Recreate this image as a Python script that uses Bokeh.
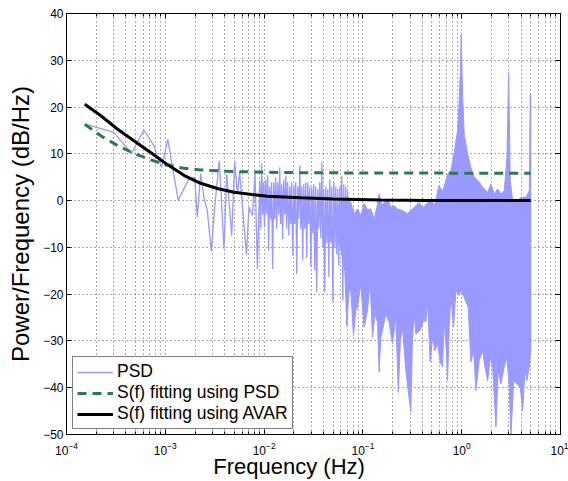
from bokeh.plotting import figure
from bokeh.embed import file_html
from bokeh.resources import INLINE
from bokeh.models import (Range1d, FixedTicker, Legend, LegendItem, LogAxis, LinearAxis,
                          CustomJSTickFormatter)

# ---------------- data ----------------
# PSD trace, low / mid frequency part (Hz, dB/Hz)
psd_freq = [1.53e-4, 3.01e-4, 4.56e-4, 6.07e-4, 7.66e-4, 9.17e-4, 1.06e-3, 1.35e-3,
            1.73e-3, 1.98e-3, 2.11e-3, 2.28e-3, 2.46e-3, 2.66e-3, 2.92e-3, 3.16e-3,
            3.52e-3, 3.93e-3, 4.18e-3, 4.41e-3, 4.70e-3, 5.04e-3, 5.36e-3, 5.66e-3,
            5.83e-3, 6.62e-3, 7.03e-3, 7.61e-3, 8.09e-3, 8.55e-3, 9.03e-3,
            9.24e-3, 9.46e-3, 9.68e-3, 9.91e-3, 1.01e-2, 1.04e-2, 1.06e-2, 1.09e-2,
            1.11e-2, 1.14e-2, 1.17e-2, 1.19e-2, 1.22e-2, 1.25e-2, 1.28e-2, 1.31e-2,
            1.34e-2, 1.37e-2, 1.41e-2, 1.44e-2, 1.47e-2, 1.51e-2, 1.54e-2, 1.58e-2,
            1.62e-2, 1.66e-2, 1.69e-2, 1.73e-2, 1.78e-2, 1.82e-2, 1.86e-2, 1.90e-2,
            1.95e-2, 2.00e-2, 2.04e-2, 2.09e-2, 2.14e-2, 2.19e-2, 2.24e-2, 2.30e-2,
            2.35e-2, 2.41e-2, 2.46e-2, 2.52e-2, 2.58e-2, 2.64e-2, 2.70e-2, 2.77e-2,
            2.83e-2, 2.90e-2, 2.97e-2, 3.04e-2, 3.11e-2, 3.18e-2, 3.26e-2, 3.33e-2,
            3.41e-2, 3.49e-2, 3.58e-2, 3.66e-2, 3.75e-2, 3.84e-2, 3.93e-2, 4.02e-2,
            4.11e-2, 4.21e-2, 4.31e-2, 4.41e-2, 4.52e-2, 4.62e-2, 4.73e-2, 4.84e-2,
            4.96e-2, 5.08e-2, 5.20e-2, 5.32e-2, 5.44e-2, 5.57e-2, 5.70e-2, 5.84e-2,
            5.98e-2, 6.12e-2, 6.26e-2, 6.41e-2, 6.56e-2, 6.72e-2, 6.87e-2, 7.04e-2]
psd_db = [16.4, 14.6, 10.1, 15.1, 11.75, 7.1, 13.1, 0.1,
          4.6, 5.0, -3.5, 5.8, 0.7, -2.1, -10.8, -1.4,
          8.5, -10.3, 5.7, 0.0, -7.5, 8.5, 1.4, 6.0,
          2.5, -11.5, -1.4, -3.2, 6.0, -14.6, 4.3,
          -6.0, 8.0, -3.0, 4.0, -5.7, 4.5, -3.0, 5.5,
          -10.7, 3.0, -4.0, 4.0, -14.6, 3.9, -4.0, 5.0,
          -6.0, 4.0, -3.0, 7.1, -5.0, 3.5, -8.2, 4.5,
          -3.0, 5.3, -6.0, 4.0, -7.5, 3.0, -5.0, 4.0,
          -11.8, 3.2, -5.0, 4.0, -15.7, 3.0, -4.0, 7.5,
          -6.0, 3.0, -12.8, 3.5, -6.0, 4.0, -12.3, 3.8,
          -5.0, 3.0, -14.2, 2.8, -7.0, 3.5, -15.0, 3.0,
          -19.6, 2.5, -6.0, 4.0, -8.0, 8.2, -10.0, 2.5,
          -19.6, 3.0, -9.0, 2.5, -16.3, 4.5, -9.0, 3.0,
          -21.7, 4.0, -10.0, 3.0, -11.5, 2.5, -14.0, 3.0,
          -8.0, 5.3, -21.4, 3.5, -15.0, 3.0, -26.7, 2.0]

# PSD dense part: upper envelope and lower envelope (Hz, dB/Hz)
env_top_freq = [5.70e-2, 6.56e-2, 6.87e-2, 7.54e-2, 8.15e-2, 8.81e-2, 9.52e-2, 0.1028, 0.1113,
                0.1202, 0.1298, 0.1383, 0.1459, 0.1554, 0.1640, 0.1775, 0.1917, 0.2071,
                0.2242, 0.2519, 0.2831, 0.3057, 0.3436, 0.3710, 0.4045, 0.4441, 0.4875,
                0.5353, 0.5875, 0.6451, 0.7194, 0.7774, 0.8395, 0.9089, 0.9434, 0.9701,
                0.9883, 1.021, 1.060, 1.148, 1.239, 1.339, 1.504, 1.628, 1.830, 1.976,
                2.135, 2.310, 2.496, 2.696, 2.871, 2.987, 3.100, 3.280, 3.541, 3.980,
                4.472, 4.830, 4.94, 5.0]
env_top_db = [-1.0, 0.5, 1.0, -0.4, -2.8, -1.8, -3.2, -0.6, -1.9,
              -1.8, -3.9, -1.5, 1.4, -1.0, -0.4, 0.4, -1.4, -1.1,
              -1.8, -2.1, -2.8, -2.1, -1.1, -0.4, -1.5, -0.6, -0.2,
              -0.8, 3.2, 2.0, 5.7, 6.4, 10.3, 15.0, 21.4, 28.0,
              35.6, 22.8, 14.2, 10.0, 7.1, 5.0, 4.0, 2.85, 1.8, 3.5,
              1.4, 2.5, 1.4, 2.1, 9.25, 27.4, 4.3, 0.0, -0.4, 0.7,
              0.7, 2.1, 22.8, 22.8]
env_bot_freq = [5.70e-2, 6.56e-2, 6.87e-2, 7.248e-2, 7.54e-2, 8.03e-2, 8.475e-2, 8.81e-2,
                9.52e-2, 9.906e-2, 0.1028, 0.1113, 0.1183, 0.1251, 0.1329, 0.1406, 0.1459,
                0.1518, 0.1580, 0.1706, 0.1843, 0.1995, 0.2154, 0.2284, 0.2393, 0.2519,
                0.2720, 0.2871, 0.3057, 0.3167, 0.3303, 0.3436, 0.3625, 0.3862, 0.4111,
                0.4339, 0.4514, 0.4795, 0.5072, 0.5353, 0.5700, 0.6057, 0.6405, 0.6648,
                0.7031, 0.7194, 0.7469, 0.7774, 0.8278, 0.8733, 0.9434, 0.9815, 1.060,
                1.164, 1.239, 1.320, 1.393, 1.504, 1.628, 1.718, 1.830, 1.945, 2.056,
                2.221, 2.343, 2.496, 2.696, 2.871, 3.029, 3.152, 3.357, 3.624, 3.914,
                4.140, 4.369, 4.577, 4.830, 5.0]
env_bot_db = [-8.0, -15.0, -26.7, -19.2, -19.2, -28.8, -23.5, -22.8,
              -17.8, -22.8, -27.1, -23.5, -17.5, -29.2, -24.2, -26.0, -36.7,
              -29.2, -27.8, -24.2, -26.0, -30.6, -24.9, -41.0, -30.0, -27.1,
              -36.3, -40.6, -45.2, -30.0, -24.2, -28.5, -28.1, -27.4, -25.6,
              -25.9, -21.4, -34.5, -29.2, -32.1, -30.6, -34.5, -35.6, -25.6,
              -32.8, -38.5, -27.1, -20.3, -27.1, -19.2, -20.3, -19.2, -20.7,
              -22.8, -34.5, -32.1, -40.6, -34.2, -32.1, -35.6, -38.5, -33.5, -35.6,
              -48.4, -36.3, -39.2, -35.6, -33.5, -39.9, -50.2, -38.5, -39.2, -39.9,
              -44.9, -36.3, -38.5, -35.6, -32.1]

# S(f) fitted using PSD (green dashed)
fit_psd_freq = [1.53e-4, 2.21e-4, 3.27e-4, 4.81e-4, 7.10e-4, 1.05e-3, 1.54e-3, 2.28e-3,
                4.96e-3, 1.6e-2, 0.1, 5.0]
fit_psd_db = [16.3, 13.9, 11.8, 10.1, 8.7, 7.6, 6.9, 6.55, 6.2, 6.0, 5.9, 5.85]

# S(f) fitted using AVAR (black)
fit_avar_freq = [1.53e-4, 2.21e-4, 3.27e-4, 4.81e-4, 7.10e-4, 1.05e-3, 1.54e-3, 2.28e-3,
                 3.36e-3, 4.96e-3, 7.5e-3, 1.08e-2, 2.35e-2, 5.0e-2, 0.152, 0.5, 5.0]
fit_avar_db = [20.6, 18.2, 15.3, 12.8, 10.3, 7.7, 5.4, 3.7,
               2.6, 1.8, 1.3, 0.95, 0.6, 0.35, 0.15, 0.05, 0.0]

x_major_ticks = [1e-4, 1e-3, 1e-2, 1e-1, 1e0, 1e1]
y_ticks = [-50, -40, -30, -20, -10, 0, 10, 20, 30, 40]
legend_labels = ["PSD", "S(f) fitting using PSD", "S(f) fitting using AVAR"]
x_title = "Frequency (Hz)"
y_title = "Power/Frequency (dB/Hz)"

PSD_COLOR = "#9999ff"
GREEN = "#2d7a4f"
FONT = "Liberation Sans"

x_minor_ticks = [m * t for t in x_major_ticks[:-1] for m in range(2, 10)]

p = figure(width=568, height=481, x_axis_type="log",
           x_range=Range1d(1e-4, 10), y_range=Range1d(-50, 40),
           output_backend="svg", toolbar_location=None,
           min_border_left=66, min_border_right=8, min_border_top=13, min_border_bottom=47,
           background_fill_color="white", border_fill_color="white")
p.outline_line_color = "black"
p.outline_line_width = 1

# axes
p.xaxis.ticker = FixedTicker(ticks=x_major_ticks, minor_ticks=x_minor_ticks)
p.yaxis.ticker = FixedTicker(ticks=y_ticks)
p.yaxis.formatter = CustomJSTickFormatter(
    code="return tick < 0 ? '\u2212' + Math.abs(tick) : String(tick);")
for ax in (p.xaxis[0], p.yaxis[0]):
    ax.major_tick_in = 5
    ax.major_tick_out = 0
    ax.minor_tick_in = 3
    ax.minor_tick_out = 0
    ax.axis_line_color = "black"
    ax.major_tick_line_color = "black"
    ax.minor_tick_line_color = "black"
    ax.major_label_text_font = FONT
    ax.major_label_text_font_size = "12px"
    ax.major_label_text_color = "black"
    ax.axis_label_text_font = FONT
    ax.axis_label_text_font_style = "normal"
    ax.axis_label_text_color = "black"
p.xaxis.major_label_standoff = 7
p.yaxis.major_label_standoff = 3
p.yaxis.axis_label = y_title
p.yaxis.axis_label_text_font_size = "24px"
p.yaxis.axis_label_standoff = 6
# trailing no-break spaces move the centred title left, as in the reference
p.xaxis.axis_label = x_title + "\u00a0" * 8
p.xaxis.axis_label_text_font_size = "22px"
p.xaxis.axis_label_standoff = -4

# tick marks on the top and right edges of the box (no labels)
blank = CustomJSTickFormatter(code="return ' ';")
top_ax = LogAxis(ticker=FixedTicker(ticks=x_major_ticks, minor_ticks=x_minor_ticks),
                 formatter=blank, major_label_text_font_size="1px",
                 major_label_standoff=0, major_tick_in=5, major_tick_out=0,
                 minor_tick_in=3, minor_tick_out=0, axis_line_color="black")
right_ax = LinearAxis(ticker=FixedTicker(ticks=y_ticks),
                      formatter=blank, major_label_text_font_size="1px",
                      major_label_standoff=0, major_tick_in=5, major_tick_out=0,
                      minor_tick_in=0, minor_tick_out=0, axis_line_color="black")
p.add_layout(top_ax, "above")
p.add_layout(right_ax, "right")

# grid (dotted, MATLAB style)
p.xgrid.grid_line_color = "black"
p.xgrid.grid_line_alpha = 0.65
p.xgrid.grid_line_dash = "1 3"
p.xgrid.minor_grid_line_color = "black"
p.xgrid.minor_grid_line_alpha = 0.65
p.xgrid.minor_grid_line_dash = "1 3"
p.ygrid.grid_line_color = "black"
p.ygrid.grid_line_alpha = 0.65
p.ygrid.grid_line_dash = "1 3"

# PSD: dense band + trace
band_x = env_top_freq + env_bot_freq[::-1]
band_y = env_top_db + env_bot_db[::-1]
p.patch(band_x, band_y, fill_color=PSD_COLOR, line_color=PSD_COLOR, line_width=1)
r_psd = p.line(psd_freq, psd_db, line_color=PSD_COLOR, line_width=1.3)

r_green = p.line(fit_psd_freq, fit_psd_db, line_color=GREEN, line_width=3, line_dash="9 6")
r_black = p.line(fit_avar_freq, fit_avar_db, line_color="black", line_width=3)

legend = Legend(items=[LegendItem(label=legend_labels[0], renderers=[r_psd]),
                       LegendItem(label=legend_labels[1], renderers=[r_green]),
                       LegendItem(label=legend_labels[2], renderers=[r_black])],
                location=(6, 5), margin=0, padding=4, spacing=0,
                glyph_width=36, glyph_height=20, label_height=20, label_standoff=4,
                label_text_font=FONT, label_text_font_size="17.5px", label_text_color="black",
                border_line_color="black", border_line_width=1,
                background_fill_color="white", background_fill_alpha=1)
p.add_layout(legend)

open("out.html", "w").write(file_html(p, INLINE))
